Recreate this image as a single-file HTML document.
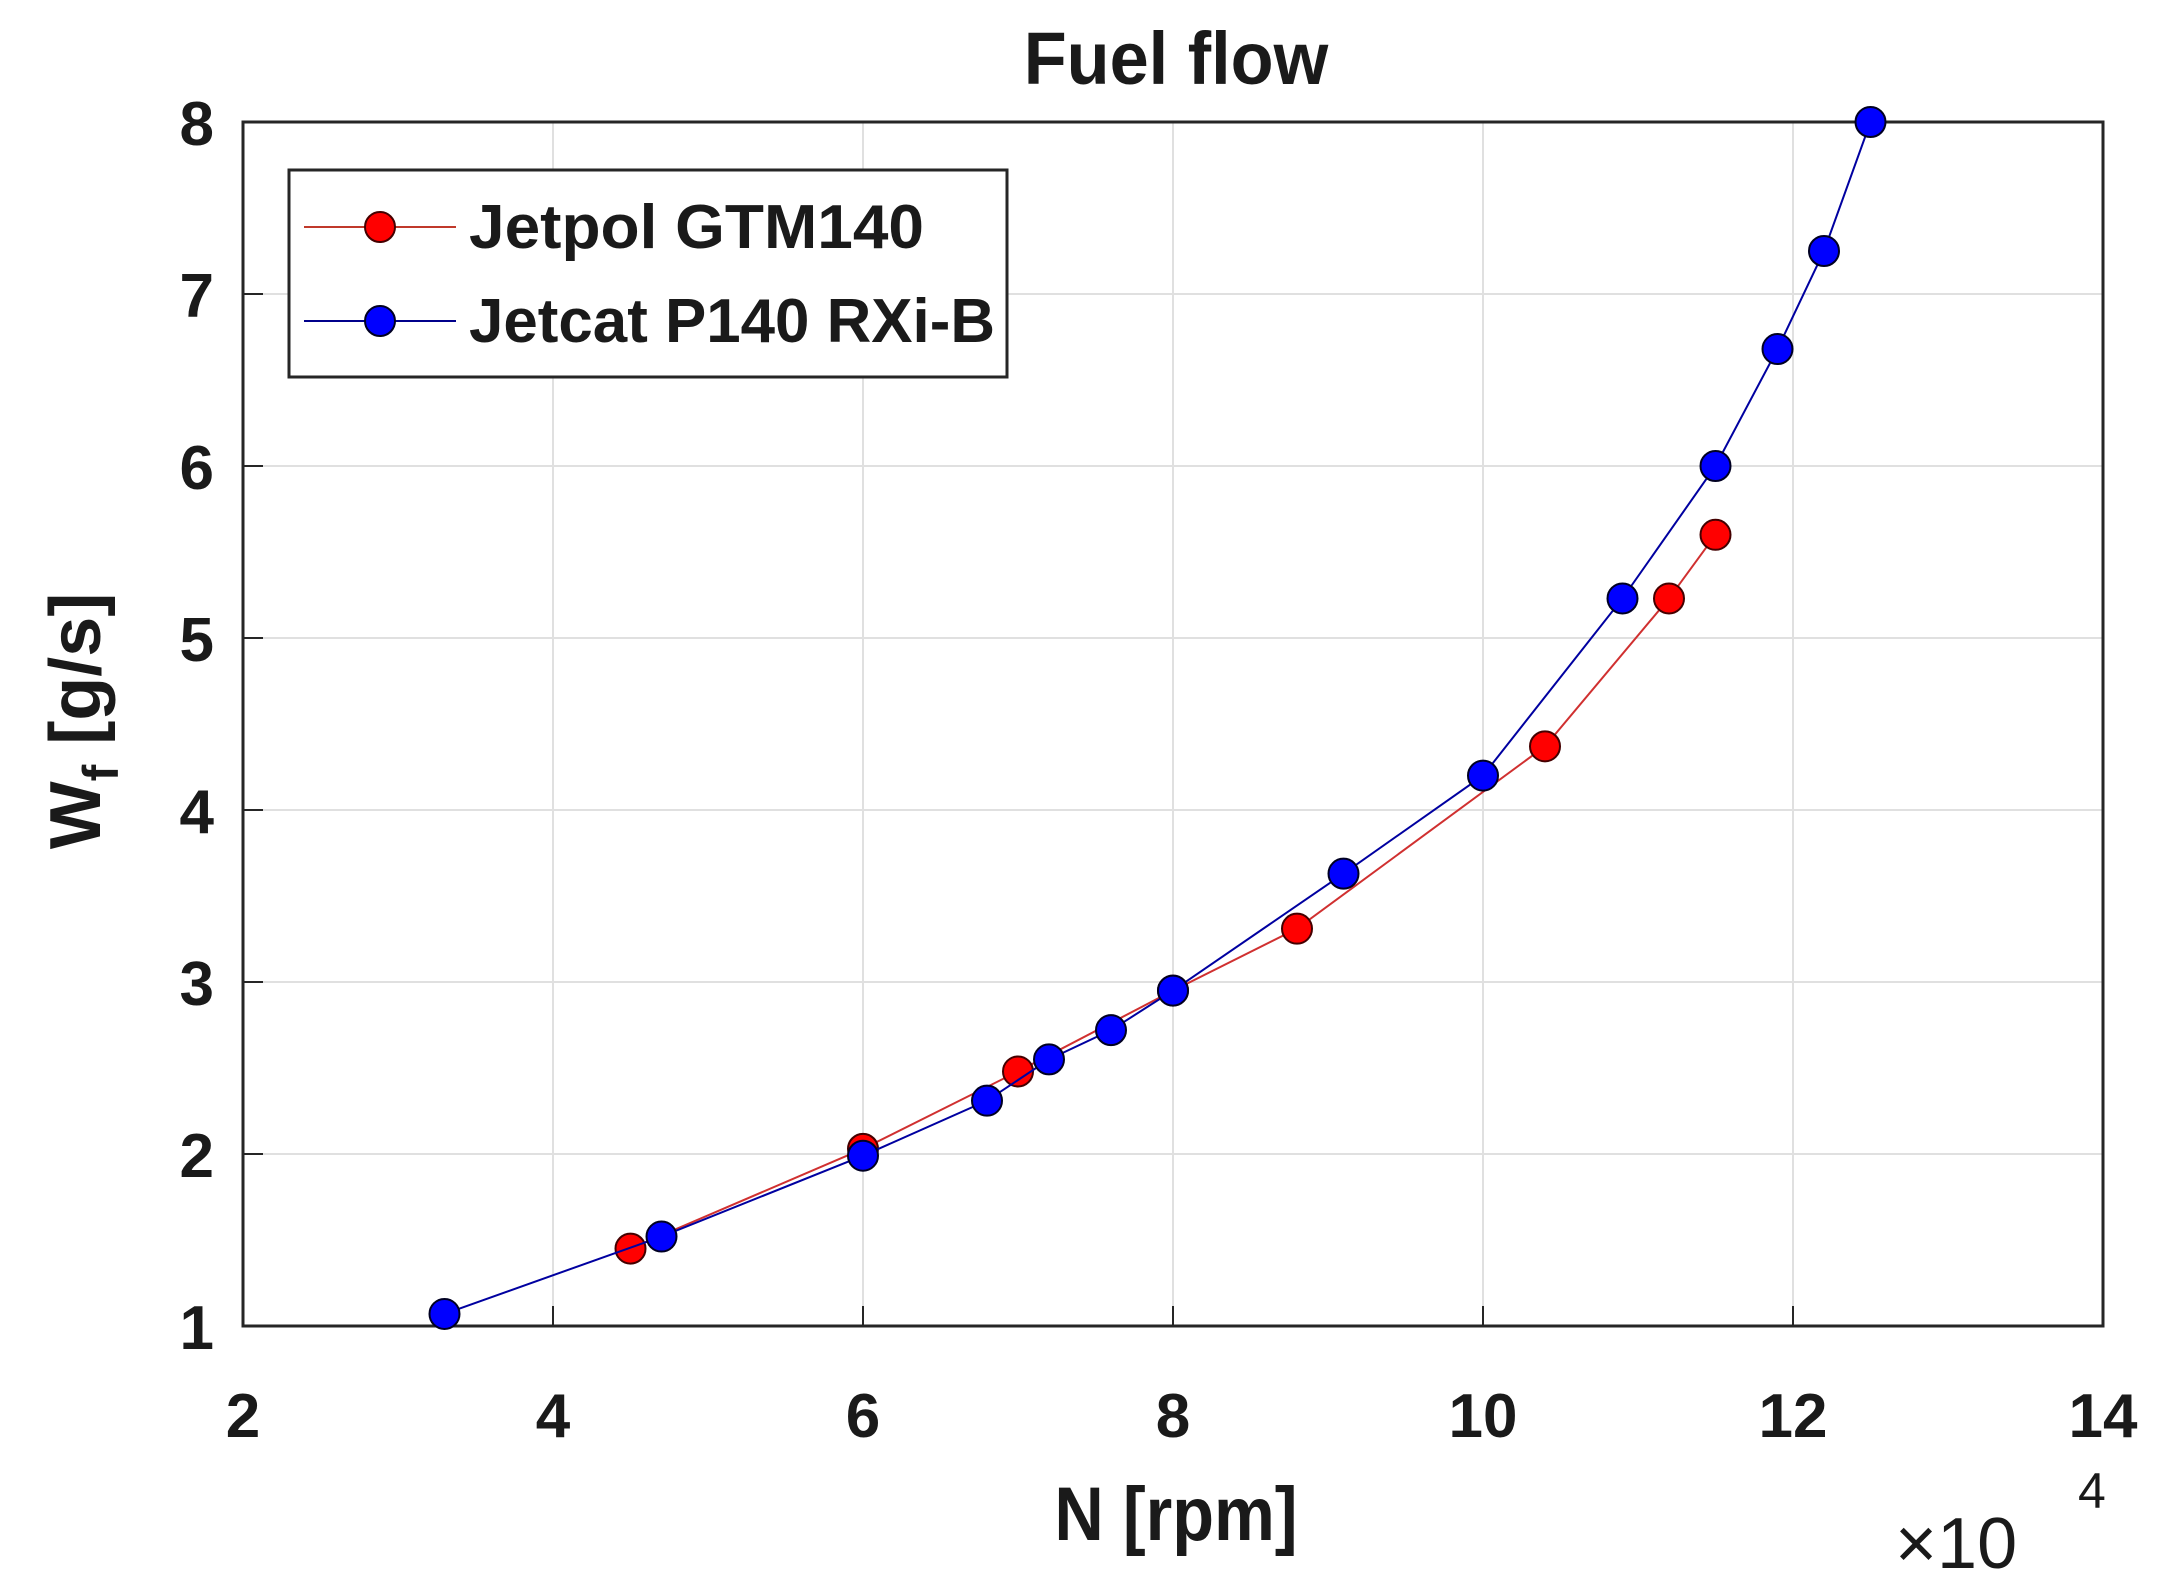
<!DOCTYPE html>
<html><head><meta charset="utf-8"><style>
html,body{margin:0;padding:0;background:#fff;}
svg{display:block;}
text{font-family:"Liberation Sans",sans-serif;font-weight:bold;fill:#1a1a1a;}
</style></head><body>
<svg id="s" width="2164" height="1587" xmlns="http://www.w3.org/2000/svg">
<rect width="2164" height="1587" fill="#fff"/>
<g id="grid"></g>
<rect x="243" y="122" width="1860" height="1204" fill="none" stroke="#262626" stroke-width="3"/>
<g id="ticks"></g>
<g id="data"></g>
<text x="1176" y="84" font-size="74" text-anchor="middle" transform="translate(1176,0) scale(0.95,1) translate(-1176,0)">Fuel flow</text>
<text x="1176" y="1540" font-size="76" text-anchor="middle" transform="translate(1176,0) scale(0.9,1) translate(-1176,0)">N [rpm]</text>
<g transform="translate(100,721) rotate(-90)"><text x="0" y="0" font-size="72" text-anchor="middle">W<tspan font-size="50" dy="18">f</tspan><tspan dy="-18"> [g/s]</tspan></text></g>
<text x="1895" y="1568" font-size="72" style="font-weight:normal">×10</text>
<text x="2078" y="1508" font-size="50" style="font-weight:normal">4</text>
<rect x="289" y="170" width="718" height="207" fill="#fff" stroke="#262626" stroke-width="3"/>
<line x1="304" y1="227" x2="456" y2="227" stroke="#c0392b" stroke-width="2"/>
<circle cx="380" cy="227" r="15" fill="#f00" stroke="#400" stroke-width="2"/>
<text x="469" y="248" font-size="62" textLength="455" lengthAdjust="spacingAndGlyphs">Jetpol GTM140</text>
<line x1="304" y1="321" x2="456" y2="321" stroke="#00008b" stroke-width="2"/>
<circle cx="380" cy="321" r="15" fill="#00f" stroke="#002" stroke-width="2"/>
<text x="469" y="342" font-size="62" textLength="526" lengthAdjust="spacingAndGlyphs">Jetcat P140 RXi-B</text>
</svg>
<script>
var X=function(v){return 243+(v-2)*155;},Y=function(v){return 1326-(v-1)*172;};
var ns="http://www.w3.org/2000/svg",g=document.getElementById('grid'),t=document.getElementById('ticks'),d=document.getElementById('data');
function el(p,tag,a,txt){var e=document.createElementNS(ns,tag);for(var k in a)e.setAttribute(k,a[k]);if(txt)e.textContent=txt;p.appendChild(e);return e;}
for(var i=4;i<=12;i+=2){el(g,'line',{x1:X(i),x2:X(i),y1:122,y2:1326,stroke:'#e0e0e0','stroke-width':2});}
for(var i=2;i<=7;i++){el(g,'line',{x1:243,x2:2103,y1:Y(i),y2:Y(i),stroke:'#e0e0e0','stroke-width':2});}
for(var i=2;i<=14;i+=2){el(t,'line',{x1:X(i),x2:X(i),y1:1326,y2:1306,stroke:'#262626','stroke-width':2});el(t,'text',{x:X(i),y:1437,'font-size':62,'text-anchor':'middle'},''+i);}
for(var i=1;i<=8;i++){el(t,'line',{x1:243,x2:263,y1:Y(i),y2:Y(i),stroke:'#262626','stroke-width':2});el(t,'text',{x:214,y:Y(i)+23,'font-size':62,'text-anchor':'end'},''+i);}
var red=[[4.5,1.45],[6,2.03],[7,2.48],[8,2.95],[8.8,3.31],[10.4,4.37],[11.2,5.23],[11.5,5.6]];
var blue=[[3.3,1.07],[4.7,1.52],[6,1.99],[6.8,2.31],[7.2,2.55],[7.6,2.72],[8,2.95],[9.1,3.63],[10,4.2],[10.9,5.23],[11.5,6.0],[11.9,6.68],[12.2,7.25],[12.5,8.0]];
function series(p,lc,fc,sc){el(d,'polyline',{points:p.map(function(q){return X(q[0])+','+Y(q[1]);}).join(' '),fill:'none',stroke:lc,'stroke-width':2});
p.forEach(function(q){el(d,'circle',{cx:X(q[0]),cy:Y(q[1]),r:15,fill:fc,stroke:sc,'stroke-width':2});});}
series(red,'#d03030','#f00','#400');
series(blue,'#0000a0','#00f','#002');
</script>
</body></html>
